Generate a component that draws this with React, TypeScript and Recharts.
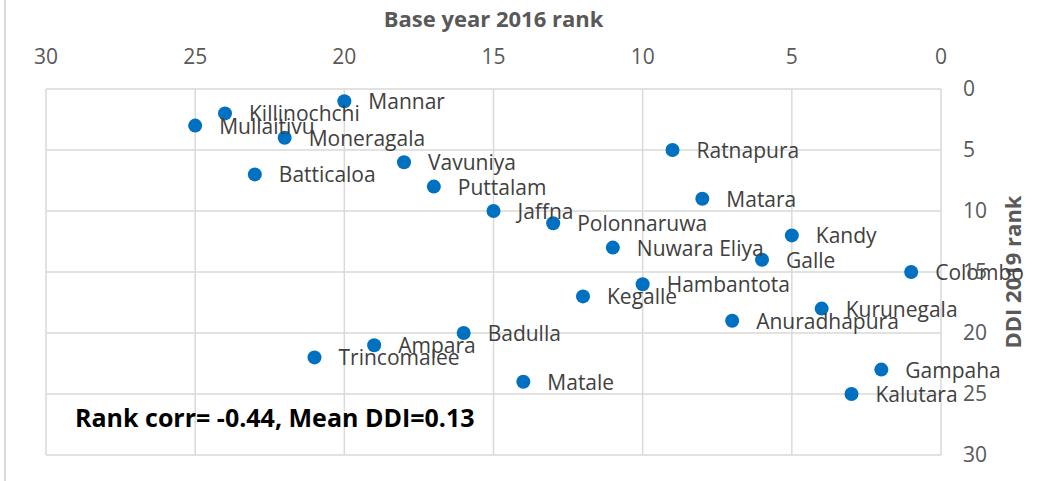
import React from 'react';
import { ScatterChart, Scatter, XAxis, YAxis, CartesianGrid } from 'recharts';

const districts = [
  'Mannar', 'Killinochchi', 'Mullaitivu', 'Moneragala', 'Vavuniya', 'Batticaloa',
  'Puttalam', 'Jaffna', 'Ratnapura', 'Matara', 'Polonnaruwa', 'Kandy', 'Nuwara Eliya',
  'Galle', 'Colombo', 'Hambantota', 'Kegalle', 'Kurunegala', 'Anuradhapura', 'Badulla',
  'Ampara', 'Trincomalee', 'Gampaha', 'Matale', 'Kalutara',
];
const rank2016 = [20, 24, 25, 22, 18, 23, 17, 15, 9, 8, 13, 5, 11, 6, 1, 10, 12, 4, 7, 16, 19, 21, 2, 14, 3];
const rank2019 = [1, 2, 3, 4, 6, 7, 8, 10, 5, 9, 11, 12, 13, 14, 15, 16, 17, 18, 19, 20, 21, 22, 23, 24, 25];
const axisTicks = [0, 5, 10, 15, 20, 25, 30];

const data = districts.map((name, i) => ({ name, x: rank2016[i], y: rank2019[i] }));

const FONT = '"Open Sans", sans-serif';
const GREY = '#595959';

const Marker = (props: any) => {
  const { cx, cy } = props;
  return <circle cx={cx} cy={cy} r={7} fill="#0070C0" />;
};

const PointLabel = (props: any) => {
  const { cx, cy, payload } = props;
  return (
    <text x={cx + 24} y={cy + 8} fontSize={21} fontFamily={FONT} fill="#404040">
      {payload.name}
    </text>
  );
};

const XTick = (props: any) => (
  <text x={props.x} y={props.y} textAnchor="middle" fontSize={21} fontFamily={FONT} fill={GREY}>
    {props.payload.value}
  </text>
);

const YTick = (props: any) => (
  <text x={props.x} y={props.y} dy={7} textAnchor="start" fontSize={21} fontFamily={FONT} fill={GREY}>
    {props.payload.value}
  </text>
);

export default function App() {
  return (
    <div style={{ position: 'absolute', left: 0, top: 0, width: 1058, height: 481, background: '#fff' }}>
      <div style={{ position: 'absolute', left: 4, top: 0, width: 2, height: 481, background: '#d9d9d9' }} />
      <ScatterChart width={1058} height={481} margin={{ top: 0, right: 0, left: 46, bottom: 26 }}>
        <CartesianGrid stroke="#d9d9d9" strokeWidth={1.5} />
        <XAxis
          type="number"
          dataKey="x"
          domain={[0, 30]}
          ticks={axisTicks}
          reversed
          orientation="top"
          height={89}
          axisLine={false}
          tickLine={false}
          tickSize={0}
          tickMargin={25}
          tick={<XTick />}
          label={{
            content: ({ viewBox }: any) => (
              <text x={viewBox.x + viewBox.width / 2} y={27} textAnchor="middle" fontSize={22}
                fontWeight="bold" fontFamily={FONT} fill={GREY}>
                Base year 2016 rank
              </text>
            ),
          }}
        />
        <YAxis
          type="number"
          dataKey="y"
          domain={[0, 30]}
          ticks={axisTicks}
          reversed
          orientation="right"
          width={117}
          axisLine={false}
          tickLine={false}
          tickSize={0}
          tickMargin={22}
          tick={<YTick />}
          label={{
            content: ({ viewBox }: any) => {
              const cx = viewBox.x + 80;
              const cy = viewBox.y + viewBox.height / 2;
              return (
                <text x={cx} y={cy} transform={`rotate(-90, ${cx}, ${cy})`} textAnchor="middle" fontSize={22}
                  fontWeight="bold" fontFamily={FONT} fill={GREY}>
                  DDI 2019 rank
                </text>
              );
            },
          }}
        />
        <Scatter data={data} shape={<Marker />} isAnimationActive={false} />
        <Scatter data={data} shape={<PointLabel />} isAnimationActive={false} />
      </ScatterChart>
      <div style={{ position: 'absolute', left: 75, top: 400, fontFamily: FONT, fontWeight: 'bold', fontSize: 25, color: '#000', lineHeight: '34px', whiteSpace: 'nowrap' }}>
        Rank corr= -0.44, Mean DDI=0.13
      </div>
    </div>
  );
}
